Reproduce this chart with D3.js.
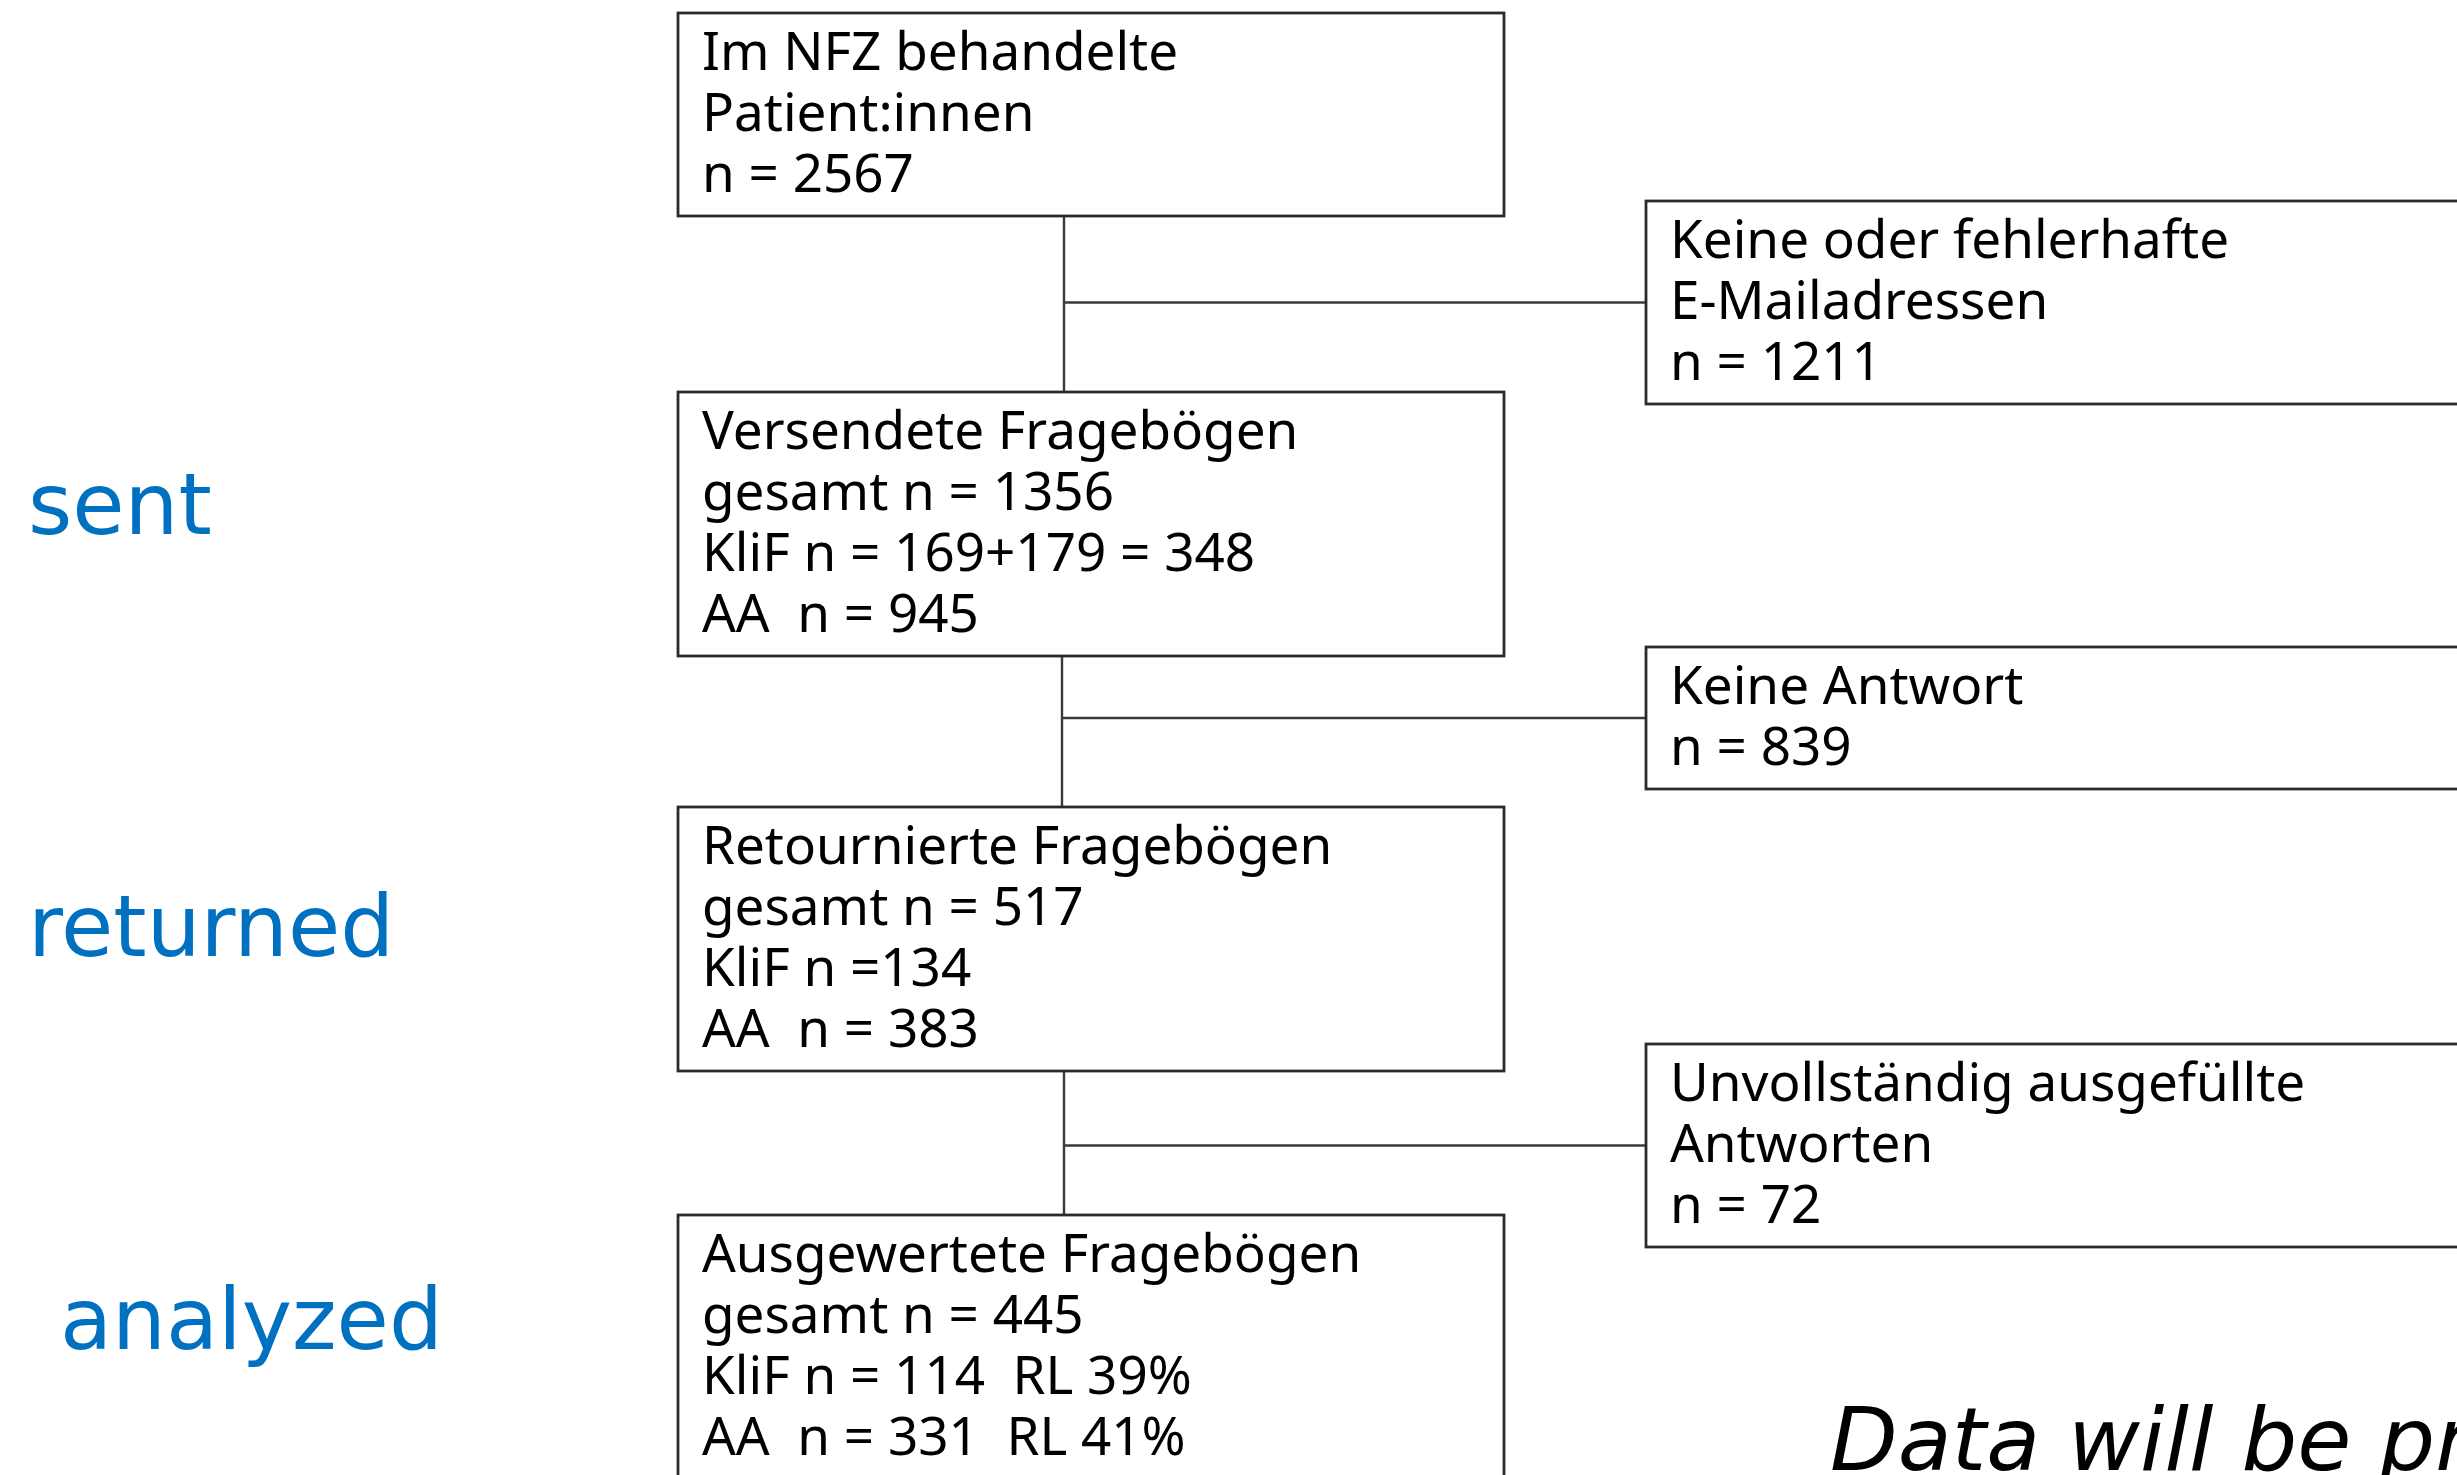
<!DOCTYPE html>
<html>
<head>
<meta charset="utf-8">
<script src="https://cdn.jsdelivr.net/npm/d3@7"></script>
<style>
  body { margin: 0; background: #fff; overflow: hidden; }
  text { white-space: pre; }
</style>
</head>
<body>
<div id="flow"></div>
<script>
// Flow data: text of each box, top to bottom
var mainBoxLines = [
    ["Im NFZ behandelte", "Patient:innen", "n = 2567"],
    ["Versendete Fragebögen", "gesamt n = 1356", "KliF n = 169+179 = 348", "AA  n = 945"],
    ["Retournierte Fragebögen", "gesamt n = 517", "KliF n =134", "AA  n = 383"],
    ["Ausgewertete Fragebögen", "gesamt n = 445", "KliF n = 114  RL 39%", "AA  n = 331  RL 41%"]
];

var excludedLines = [
    ["Keine oder fehlerhafte", "E-Mailadressen", "n = 1211"],
    ["Keine Antwort", "n = 839"],
    ["Unvollständig ausgefüllte", "Antworten", "n = 72"]
];

var stageLabels = ["sent", "returned", "analyzed"];
var footNote = "Data will be provided";

// Layout
var width = 2457, height = 1475;
var lineStep = 61;
var pad = {top: 57, left: 24};

var mainBox = {x: 678, w: 826};
var mainTop = [13, 392, 807, 1215];
var sideBox = {x: 1646, w: 840};
var sideTop = [201, 647, 1044];
var stemX = [1064, 1062, 1064];
var labelPos = [{x: 28, y: 534}, {x: 28, y: 956}, {x: 60, y: 1349}];

var boxHeight = function(lines) { return lines.length * lineStep + 20; };

var svg = d3.select("#flow")
    .append("svg")
    .attr("width", width)
    .attr("height", height);

// y scale is identity in pixels, used for all vertical placement
var y = d3.scaleLinear().domain([0, height]).range([0, height]);

// connectors first, so boxes sit on top
var links = svg.append("g")
    .attr("stroke", "#3a3a3a")
    .attr("stroke-width", 2.4);

excludedLines.forEach(function(lines, i) {
    var y0 = mainTop[i] + boxHeight(mainBoxLines[i]);
    var y1 = mainTop[i + 1];
    var yMid = sideTop[i] + boxHeight(lines) / 2;
    links.append("line")
        .attr("x1", stemX[i]).attr("x2", stemX[i])
        .attr("y1", y(y0)).attr("y2", y(y1));
    links.append("line")
        .attr("x1", stemX[i]).attr("x2", sideBox.x)
        .attr("y1", y(yMid)).attr("y2", y(yMid));
});

function drawBox(g, x, top, w, lines) {
    g.append("rect")
        .attr("x", x)
        .attr("y", y(top))
        .attr("width", w)
        .attr("height", boxHeight(lines))
        .attr("fill", "#fff")
        .attr("stroke", "#2b2b2b")
        .attr("stroke-width", 2.8);
    g.selectAll("text.line")
        .data(lines)
        .enter()
        .append("text")
        .attr("class", "line")
        .attr("x", x + pad.left)
        .attr("y", (d, j) => y(top + pad.top + j * lineStep))
        .attr("font-family", "'Noto Sans', 'Open Sans', sans-serif")
        .attr("font-size", 53)
        .attr("fill", "#000")
        .text(d => d);
}

mainBoxLines.forEach(function(lines, i) {
    drawBox(svg.append("g"), mainBox.x, mainTop[i], mainBox.w, lines);
});

excludedLines.forEach(function(lines, i) {
    drawBox(svg.append("g"), sideBox.x, sideTop[i], sideBox.w, lines);
});

// stage labels on the left
svg.selectAll("text.stage")
    .data(stageLabels)
    .enter()
    .append("text")
    .attr("class", "stage")
    .attr("x", (d, i) => labelPos[i].x)
    .attr("y", (d, i) => y(labelPos[i].y))
    .attr("font-family", "'DejaVu Sans', Verdana, sans-serif")
    .attr("font-size", 85)
    .attr("fill", "#0070c0")
    .text(d => d);

// footnote, cut by the right edge like the original
svg.append("text")
    .attr("x", 1830)
    .attr("y", y(1470))
    .attr("font-family", "'DejaVu Sans', sans-serif")
    .attr("font-style", "italic")
    .attr("font-size", 88)
    .attr("fill", "#000")
    .text(footNote);
</script>
</body>
</html>
